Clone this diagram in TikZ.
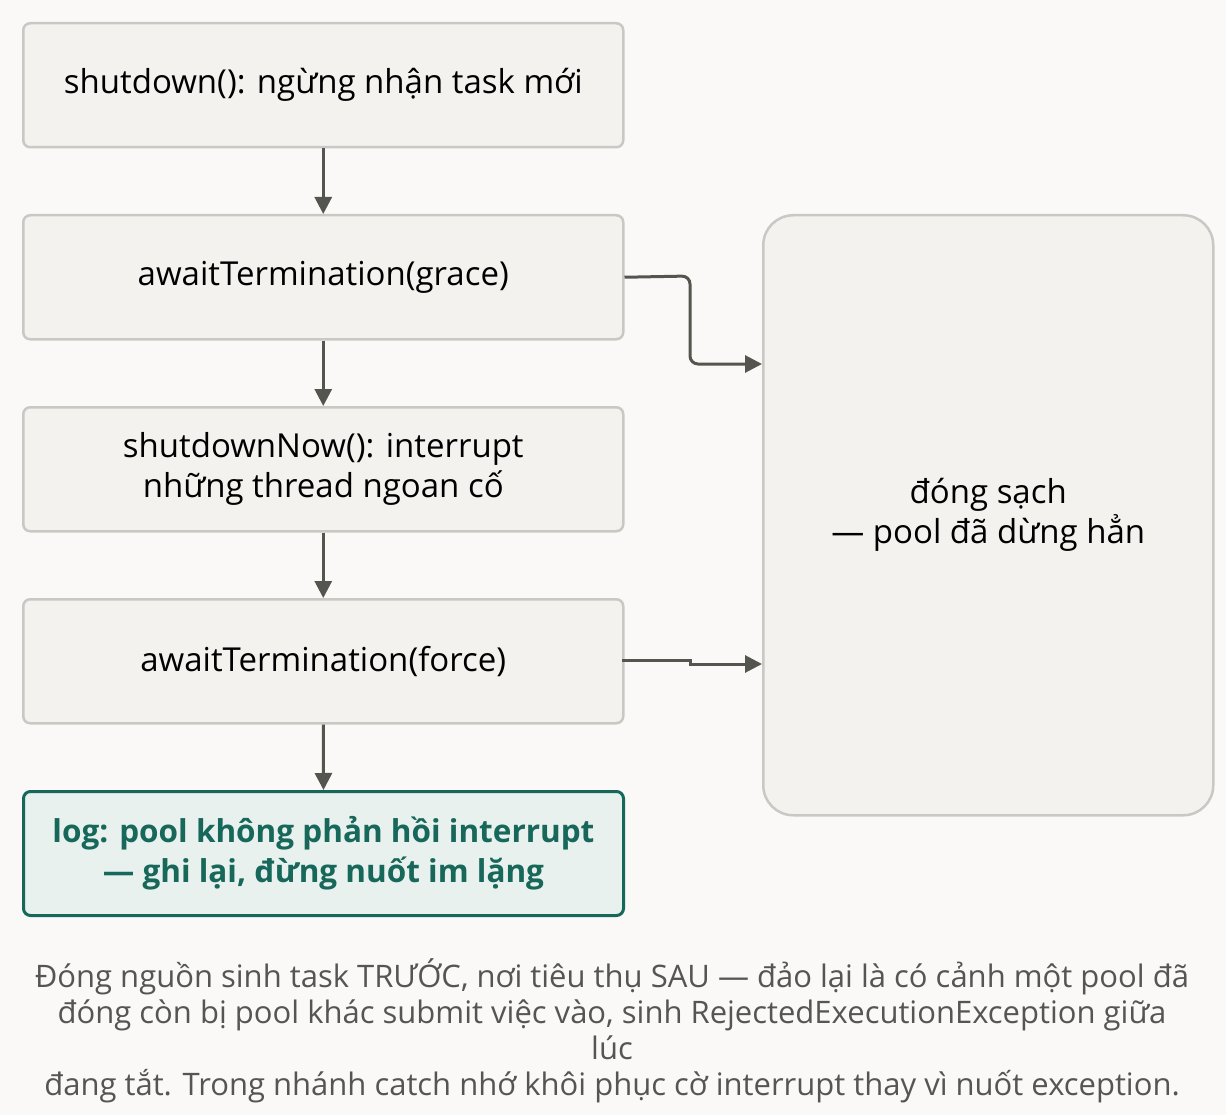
\documentclass[tikz,border=0pt]{standalone}
\usepackage{fontspec}
\setmainfont{Open Sans}
\usetikzlibrary{arrows.meta}
\definecolor{bg}{HTML}{FAF9F7}
\definecolor{boxf}{HTML}{F3F2EF}
\definecolor{boxd}{HTML}{C8C8C4}
\definecolor{arr}{HTML}{55554F}
\definecolor{teal}{HTML}{17675A}
\definecolor{tealf}{HTML}{E8F1EE}
\definecolor{cap}{HTML}{555555}
\begin{document}
\begin{tikzpicture}[x=1pt,y=-1pt,
  box/.style={draw=boxd,line width=2.5pt,fill=boxf,rounded corners=7pt,minimum width=600pt,minimum height=124pt,anchor=north west,align=center,font=\fontsize{33}{40}\selectfont,inner sep=0pt},
  ar/.style={draw=arr,line width=3pt,-{Triangle[length=17pt,width=17pt]},rounded corners=8pt}]
\path[fill=bg] (0,0) rectangle (1226,1115);
\useasboundingbox (0,0) rectangle (1226,1115);
\node[box] (b1) at (22,22) {shutdown(): ngừng nhận task mới};
\node[box] (b2) at (22,214) {awaitTermination(grace)};
\node[box] (b3) at (22,406) {shutdownNow(): interrupt\\những thread ngoan cố};
\node[box] (b4) at (22,598) {awaitTermination(force)};
\node[box,draw=teal,fill=tealf,text=teal,font=\fontsize{31.5}{40}\selectfont\bfseries,line width=3pt] (b5) at (22,790) {log: pool không phản hồi interrupt\\— ghi lại, đừng nuốt im lặng};
\node[box,minimum width=450pt,minimum height=600pt,rounded corners=30pt,font=\fontsize{33}{40}\selectfont] (r) at (762,214) {đóng sạch\\— pool đã dừng hẳn};
\draw[ar] (b1.south) -- (b2.north);
\draw[ar] (b2.south) -- (b3.north);
\draw[ar] (b3.south) -- (b4.north);
\draw[ar] (b4.south) -- (b5.north);
\coordinate (t1) at (762,364);
\coordinate (t2) at (762,664);
\draw[ar] (b2.east) -- (690,276) -- (690,364) -- (t1);
\draw[ar,rounded corners=0pt] (622,660) -- (690,660) -- (690,664) -- (t2);
\node[align=center,text=cap,font=\fontsize{31}{36}\selectfont] (c) at (612,1031) {Đóng nguồn sinh task TRƯỚC, nơi tiêu thụ SAU — đảo lại là có cảnh một pool đã\\đóng còn bị pool khác submit việc vào, sinh RejectedExecutionException giữa\\lúc\\đang tắt. Trong nhánh catch nhớ khôi phục cờ interrupt thay vì nuốt exception.};
\end{tikzpicture}
\end{document}
